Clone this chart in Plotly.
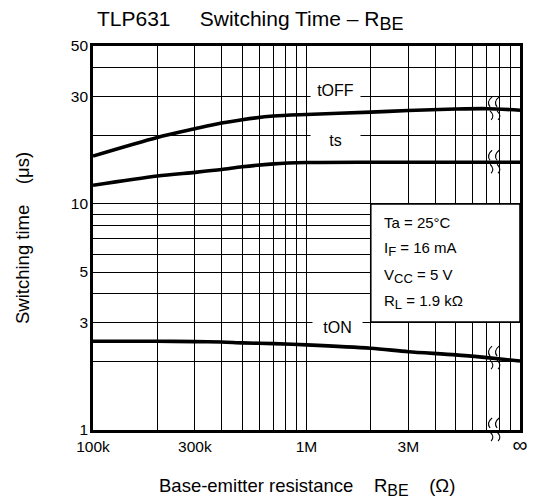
import math
import plotly.graph_objects as go

# ---------------- data ----------------
rbe = [1e5, 2e5, 3e5, 4e5, 5e5, 7e5, 1e6, 2e6, 3e6, 5e6, 7e6, 1e7]
t_off = [16.3, 19.7, 21.5, 22.8, 23.6, 24.5, 24.9, 25.5, 25.9, 26.3, 26.4, 26.0]
t_s = [12.1, 13.3, 13.8, 14.2, 14.6, 15.05, 15.25, 15.3, 15.3, 15.3, 15.3, 15.3]
t_on = [2.47, 2.47, 2.46, 2.45, 2.43, 2.41, 2.38, 2.30, 2.22, 2.15, 2.09, 2.02]

x_tick_vals = [1e5, 3e5, 1e6, 3e6, 1e7]
x_tick_text = ["100k", "300k", "1M", "3M", "<span style='font-size:21px'>∞</span>"]
y_tick_vals = [1, 3, 5, 10, 30, 50]
y_tick_text = ["1", "3", "5", "10", "30", "50"]

x_grid = [m * 10 ** e for e in (5, 6) for m in range(1, 10)] + [1e7]
y_grid = list(range(1, 10)) + [10, 20, 30, 40, 50]

break_x = 7.4e6
box_x = [2e6, 1e7]
box_y = [3, 10]

# ---------------- layout geometry ----------------
# reference pixel frame (window); the page body adds an 8px margin
WIN_W, WIN_H = 541, 502
OFF = 8
W, H = WIN_W - OFF, WIN_H - OFF
L, R, T, B = 93, 520, 46, 430          # plot area in reference pixels
X_RANGE = [5, 7]
Y_RANGE = [0, math.log10(50)]
FONT = "Liberation Sans, Arial, sans-serif"


def px2paper(xp, yp):
    return (xp - L) / (R - L), (B - yp) / (B - T)


def d2px(x, y):
    xp = L + (math.log10(x) - X_RANGE[0]) / (X_RANGE[1] - X_RANGE[0]) * (R - L)
    yp = B - (math.log10(y) - Y_RANGE[0]) / (Y_RANGE[1] - Y_RANGE[0]) * (B - T)
    return xp, yp


def interp_log(xs, ys, x):
    lx = [math.log10(v) for v in xs]
    ly = [math.log10(v) for v in ys]
    t = math.log10(x)
    for i in range(len(lx) - 1):
        if lx[i] <= t <= lx[i + 1]:
            f = (t - lx[i]) / (lx[i + 1] - lx[i])
            return 10 ** (ly[i] + f * (ly[i + 1] - ly[i]))
    return ys[-1]


fig = go.Figure()
for ys in (t_off, t_s, t_on):
    fig.add_trace(go.Scatter(
        x=rbe, y=ys, mode="lines",
        line=dict(color="black", width=3.6, shape="spline", smoothing=0.8),
        showlegend=False, hoverinfo="skip"))

axis_common = dict(
    type="log", tickmode="array",
    showgrid=True, gridcolor="black", gridwidth=1.2,
    showline=True, linecolor="black", linewidth=2.6, mirror=True,
    ticks="", tickfont=dict(family=FONT, size=15.5, color="black"),
    zeroline=False, fixedrange=True)

fig.update_xaxes(
    range=X_RANGE, tickvals=x_tick_vals, ticktext=x_tick_text,
    minor=dict(tickmode="array", tickvals=[v for v in x_grid if v not in x_tick_vals],
               showgrid=True, gridcolor="black", gridwidth=1.2, ticks=""),
    ticklabelstandoff=1,
    **axis_common)
fig.update_yaxes(
    range=Y_RANGE, tickvals=y_tick_vals, ticktext=y_tick_text,
    minor=dict(tickmode="array", tickvals=[v for v in y_grid if v not in y_tick_vals],
               showgrid=True, gridcolor="black", gridwidth=1.2, ticks=""),
    ticklabelstandoff=-1,
    **axis_common)

shapes = []
# condition box
bx0, by1 = d2px(box_x[0], box_y[1])
bx1, by0 = d2px(box_x[1], box_y[0])
p0 = px2paper(bx0, by0)
p1 = px2paper(bx1, by1)
shapes.append(dict(type="rect", xref="paper", yref="paper",
                   x0=p0[0], y0=p0[1], x1=p1[0], y1=p1[1],
                   fillcolor="white", line=dict(color="black", width=1.6), layer="above"))


def path_from_px(cmds):
    out = []
    for c in cmds:
        if isinstance(c, str):
            out.append(c)
        else:
            a, b = px2paper(*c)
            out.append(f"{a:.5f},{b:.5f}")
    return " ".join(out)


def break_marks(cx, cy):
    res = []
    for dx in (0, 7):
        x = cx + dx
        p = path_from_px(["M", (x + 3, cy - 12), "Q", (x - 3, cy - 7), (x + 1, cy - 2),
                          "M", (x + 1, cy + 2), "Q", (x + 6, cy + 7), (x + 2, cy + 11)])
        res.append(dict(type="path", xref="paper", yref="paper", path=p,
                        line=dict(color="black", width=1.1), layer="above"))
    return res


for ys in (t_off, t_s, t_on):
    cx, cy = d2px(break_x, interp_log(rbe, ys, break_x))
    shapes += break_marks(cx - 3, cy)
cx, _ = d2px(break_x, 1)
shapes += break_marks(cx - 3, B)

annotations = []


def ann_px(text, xp, yp, size, xanchor="center", **kw):
    a, b = px2paper(xp, yp)
    d = dict(text=text, xref="paper", yref="paper", x=a, y=b, xanchor=xanchor,
             yanchor="middle", showarrow=False,
             font=dict(family=FONT, size=size, color="black"))
    d.update(kw)
    annotations.append(d)


NB = "\u00a0"
# title
ann_px("TLP631" + NB * 5 + "Switching Time – R<sub><span style='font-size:18px'>BE</span></sub>",
       95, 20, 21, xanchor="left")
# axis titles
ann_px("Base-emitter resistance" + NB * 4 + "R<sub><span style='font-size:16px'>BE</span></sub>" + NB * 4 + "(Ω)",
       (L + R) / 2, 487, 18.5)
ann_px("Switching time" + NB * 4 + "(μs)", 22, (T + B) / 2, 18.5, textangle=-90)

# curve labels
for txt, xp, yp in (("tOFF", 335, 90), ("ts", 335, 140), ("tON", 337, 327)):
    ann_px(txt, xp, yp, 16, bgcolor="white", width=49, height=20, borderpad=0)

# condition text
for txt, yp in (("Ta = 25°C", 222.7),
                ("I<sub><span style='font-size:13px'>F</span></sub> = 16 mA", 249.3),
                ("V<sub><span style='font-size:13px'>CC</span></sub> = 5 V", 276),
                ("R<sub><span style='font-size:13px'>L</span></sub> = 1.9 kΩ", 301.7)):
    ann_px(txt, 381.5, yp, 15, xanchor="left")

fig.update_layout(
    width=W, height=H,
    margin=dict(l=L - OFF, r=W - (R - OFF), t=T - OFF, b=H - (B - OFF), pad=0),
    paper_bgcolor="white", plot_bgcolor="white",
    font=dict(family=FONT, color="black"),
    shapes=shapes, annotations=annotations,
    showlegend=False)

fig.write_html("out.html")
